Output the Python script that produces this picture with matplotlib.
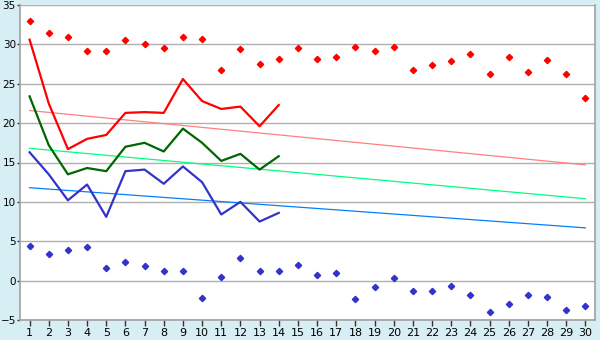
import matplotlib
matplotlib.use("Agg")
from matplotlib import pyplot as plt

days = list(range(1, 31))

# scatter points
high_pts = [33.0, 31.5, 30.9, 29.1, 29.1, 30.6, 30.0, 29.6, 30.9, 30.7,
            26.8, 29.4, 27.5, 28.2, 29.6, 28.2, 28.4, 29.7, 29.2, 29.7,
            26.7, 27.4, 27.9, 28.8, 26.3, 28.4, 26.5, 28.0, 26.3, 23.2]
low_pts = [4.4, 3.4, 3.9, 4.3, 1.65, 2.4, 1.9, 1.27, 1.27, -2.16,
           0.5, 2.9, 1.18, 1.18, 2.0, 0.76, 1.0, -2.28, -0.76, 0.38,
           -1.27, -1.27, -0.63, -1.78, -3.93, -2.92, -1.78, -2.03, -3.68, -3.17]

# lines (first 14 days)
line_days = days[:14]
red_line = [30.6, 22.5, 16.7, 18.0, 18.5, 21.3, 21.4, 21.3, 25.6, 22.8,
            21.8, 22.1, 19.6, 22.3]
green_line = [23.4, 17.2, 13.5, 14.3, 13.9, 17.0, 17.5, 16.4, 19.3, 17.5,
              15.2, 16.1, 14.1, 15.8]
blue_line = [16.3, 13.5, 10.2, 12.2, 8.1, 13.9, 14.1, 12.3, 14.5, 12.5,
             8.4, 10.0, 7.5, 8.6]

# trend lines, values at day 1 and day 30
trend_x = [1, 30]
red_trend = [21.6, 14.7]
green_trend = [16.8, 10.4]
blue_trend = [11.8, 6.7]

bg = '#d8eef5'
fig = plt.figure(figsize=(6, 3.4), dpi=100, facecolor=bg)
ax = fig.add_axes([20/600, 20/340, 575/600, 315/340])
ax.set_facecolor('white')

for y in range(-5, 36, 5):
    ax.axhline(y, color='#b0b0b0', lw=1.0, zorder=0)

ax.plot(trend_x, red_trend, color='#ff8080', lw=0.9, zorder=2)
ax.plot(trend_x, green_trend, color='#00ff80', lw=0.9, zorder=2)
ax.plot(trend_x, blue_trend, color='#0080ff', lw=0.9, zorder=2)

ax.plot(line_days, red_line, color='#ff0000', lw=1.6, zorder=3)
ax.plot(line_days, green_line, color='#006600', lw=1.6, zorder=3)
ax.plot(line_days, blue_line, color='#3333cc', lw=1.6, zorder=3)

ax.plot(days, high_pts, ls='none', marker='D', ms=3.2, color='#ff0000', zorder=4)
ax.plot(days, low_pts, ls='none', marker='D', ms=3.2, color='#3333cc', zorder=4)

ax.set_xlim(0.5, 30.5)
ax.set_ylim(-5, 35)
ax.set_xticks(days)
ax.set_yticks(range(-5, 36, 5))
ax.tick_params(axis='both', labelsize=8, length=4, width=1, color='#333333', pad=2)
ax.tick_params(axis='y', length=2, pad=1, labelsize=7.5)

for s in ['left', 'right', 'bottom']:
    ax.spines[s].set_color('#a0a0a0')
    ax.spines[s].set_linewidth(1.2)
ax.spines['top'].set_visible(False)

plt.savefig('out.png', facecolor=bg)
